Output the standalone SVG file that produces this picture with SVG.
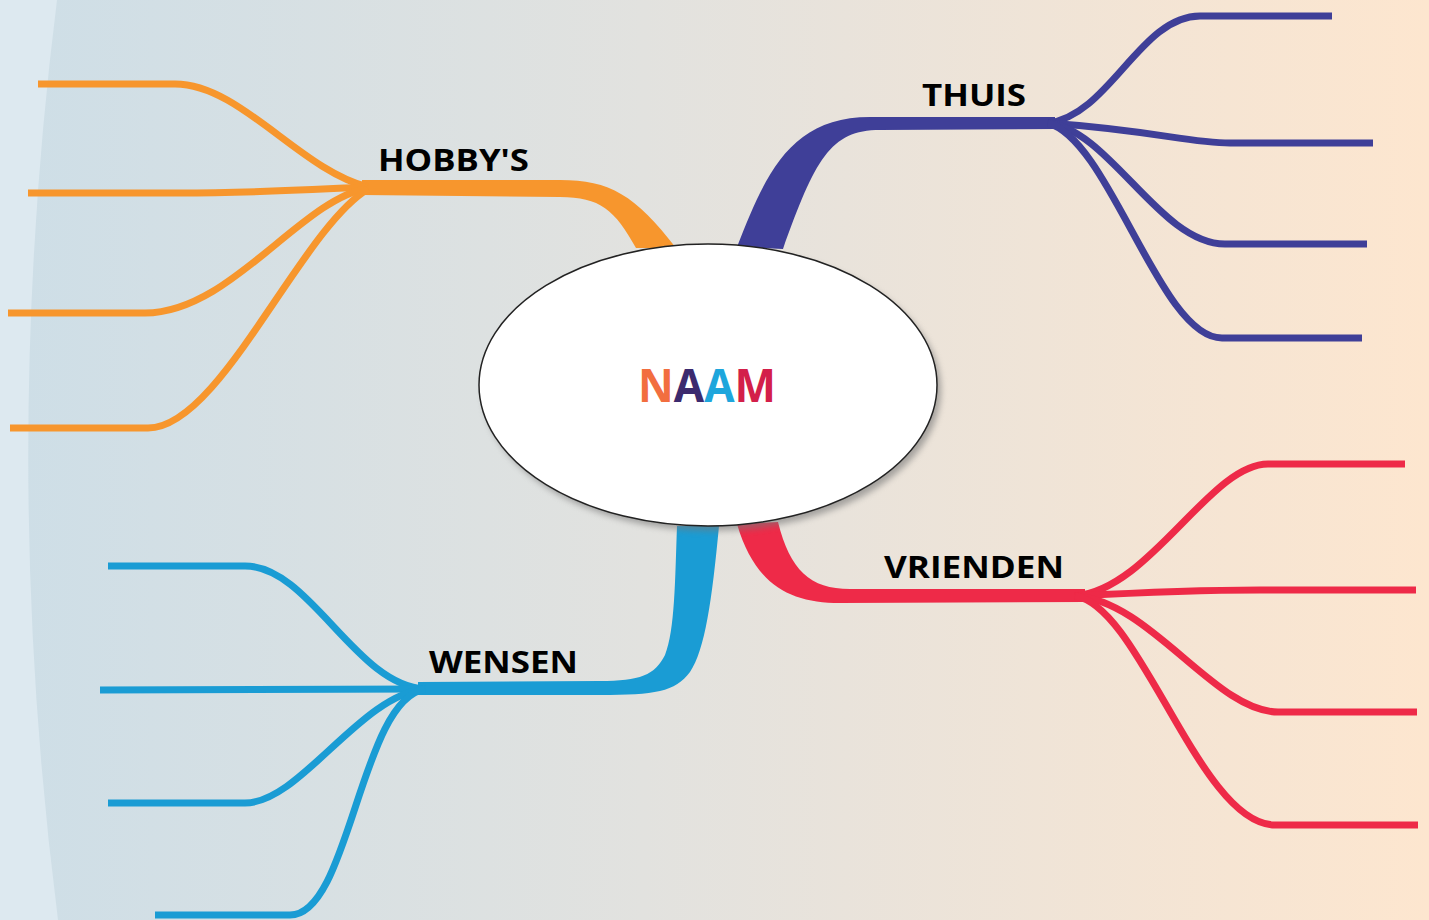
<svg xmlns="http://www.w3.org/2000/svg" width="1429" height="920" viewBox="0 0 1429 920">
<defs>
<linearGradient id="bg" x1="0" y1="0" x2="1429" y2="0" gradientUnits="userSpaceOnUse">
<stop offset="0" stop-color="#cddee7"/>
<stop offset="0.45" stop-color="#e2e2df"/>
<stop offset="1" stop-color="#fde6cf"/>
</linearGradient>
<filter id="sh" x="-10%" y="-10%" width="125%" height="130%">
<feGaussianBlur stdDeviation="3"/>
</filter>
<style>
.sub{fill:none;stroke-width:7;stroke-linecap:butt}
.o{stroke:#f7962d}.p{stroke:#3f3f98}.r{stroke:#ee2a48}.b{stroke:#1a9cd4}
.lbl{font-family:"Open Sans","Liberation Sans",Arial,sans-serif;font-weight:bold;font-size:31px;fill:#000}
.naam{font-family:"Open Sans","Liberation Sans",Arial,sans-serif;font-weight:bold;font-size:46px}
</style>
</defs>
<rect width="1429" height="920" fill="#dde9f0"/>
<path d="M57,0 Q-1,460 58,920 L1429,920 L1429,0 Z" fill="url(#bg)"/>
<g id="connectors">
<path d="M362,180 L560,180 C610,180 635,195 676,248 L636,248 C615,210 600,197 560,197 L362,195 Z" fill="#f7962d"/>
<path class="sub o" d="M368,187 C300,170 240,84 175,84 L38,84"/>
<path class="sub o" d="M368,187 C300,190 250,193 180,193 L28,193"/>
<path class="sub o" d="M368,188 C300,200 230,313 145,313 L8,313"/>
<path class="sub o" d="M368,189 C300,230 220,428 148,428 L10,428"/>
<path d="M737,247 C765,175 790,117 870,117 L1055,117 L1055,129 L880,130 C830,130 815,160 783,249 Z" fill="#3f3f98"/>
<path class="sub p" d="M1048,123 C1110,115 1140,16 1200,16 L1332,16"/>
<path class="sub p" d="M1048,123 C1150,130 1190,143 1230,143 L1373,143"/>
<path class="sub p" d="M1048,123 C1110,130 1160,244 1225,244 L1367,244"/>
<path class="sub p" d="M1048,123 C1110,140 1160,338 1222,338 L1362,338"/>
<path d="M737,524 C755,585 790,603 840,603 L1085,602 L1085,589 L850,589 C810,589 790,570 778,522 Z" fill="#ee2a48"/>
<path class="sub r" d="M1075,596 C1150,590 1210,464 1268,464 L1405,464"/>
<path class="sub r" d="M1075,596 C1150,592 1200,590 1260,590 L1416,590"/>
<path class="sub r" d="M1075,596 C1150,600 1215,712 1278,712 L1417,712"/>
<path class="sub r" d="M1075,596 C1140,605 1200,825 1275,825 L1418,825"/>
<path d="M677,526 L719,526 C712,600 705,650 690,672 C675,692 655,695 600,695 L418,695 L418,682 L600,681 C640,681 655,675 665,655 C675,630 675,580 677,526 Z" fill="#1a9cd4"/>
<path class="sub b" d="M425,689 C355,685 310,566 245,566 L108,566"/>
<path class="sub b" d="M425,689 L100,690"/>
<path class="sub b" d="M425,689 C360,695 300,803 245,803 L108,803"/>
<path class="sub b" d="M425,689 C360,700 350,915 290,915 L155,915"/>
</g>
<g id="center">
<ellipse cx="712" cy="390" rx="229" ry="141" fill="#777" opacity="0.6" filter="url(#sh)"/>
<ellipse cx="708" cy="385" rx="229" ry="141" fill="#fff" stroke="#222" stroke-width="1.5"/>
<text class="naam" x="707" y="402" text-anchor="middle" textLength="138" lengthAdjust="spacingAndGlyphs"><tspan fill="#f26e3f">N</tspan><tspan fill="#3c2a6e">A</tspan><tspan fill="#1ea6dc">A</tspan><tspan fill="#d31f4a">M</tspan></text>
</g>
<g id="hobbys"><text class="lbl" x="378" y="171" textLength="151" lengthAdjust="spacingAndGlyphs">HOBBY'S</text></g>
<g id="thuis"><text class="lbl" x="922" y="106" textLength="104" lengthAdjust="spacingAndGlyphs">THUIS</text></g>
<g id="vrienden"><text class="lbl" x="884" y="578" textLength="180" lengthAdjust="spacingAndGlyphs">VRIENDEN</text></g>
<g id="wensen"><text class="lbl" x="429" y="673" textLength="149" lengthAdjust="spacingAndGlyphs">WENSEN</text></g>
</svg>
